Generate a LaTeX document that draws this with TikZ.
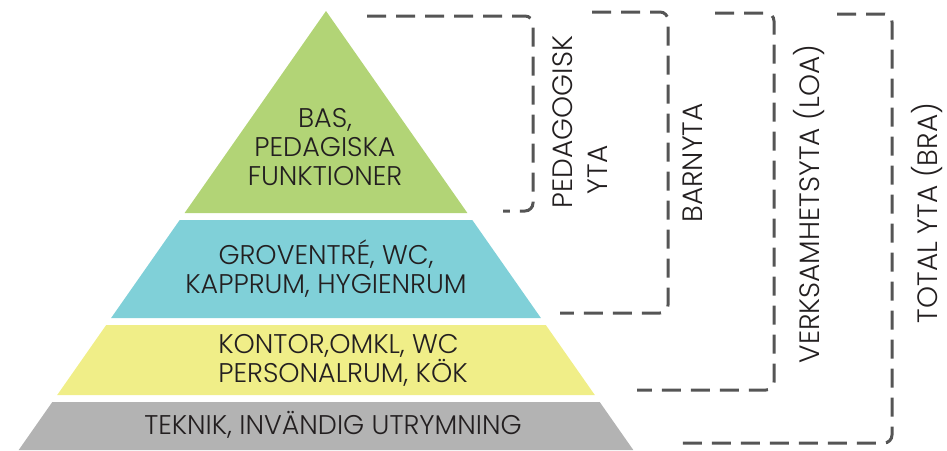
\documentclass[tikz,border=0pt]{standalone}
\usepackage{fontspec}
\setmainfont{Poppins}[UprightFont=* Light]
\usetikzlibrary{positioning}
\definecolor{basgreen}{RGB}{178,212,118}
\definecolor{grovcyan}{RGB}{128,208,216}
\definecolor{kontyellow}{RGB}{240,238,136}
\definecolor{teknikgray}{RGB}{179,179,179}
\definecolor{textdark}{RGB}{35,31,32}
\definecolor{dashgray}{RGB}{85,85,85}
\newcommand{\upc}[1]{\MakeUppercase{#1}}
\tikzstyle{layertext} = [text=textdark, align=center, inner sep=0pt, font=\fontsize{27}{29}\selectfont]
\tikzstyle{sidelabel} = [text=textdark, align=center, inner sep=0pt, rotate=90, font=\fontsize{28}{35}\selectfont]
\tikzstyle{bracket} = [draw=dashgray, line width=3pt, dash pattern=on 19pt off 10pt, rounded corners=8pt]

\begin{document}
\begin{tikzpicture}[x=1pt, y=-1pt]
    \useasboundingbox (0,0) rectangle (947,450);
    % pyramid layers
    \foreach \ya/\yb/\col in {11/213/basgreen, 220/318/grovcyan, 325/395/kontyellow, 402/450/teknikgray}
        \fill[\col] ({326-0.7*(\ya-11)},\ya) -- ({326+0.7*(\ya-11)},\ya) -- ({326+0.7*(\yb-11)},\yb) -- ({326-0.7*(\yb-11)},\yb) -- cycle;
    \node (bas) [layertext] at (325,147) {\upc{Bas,}\\\upc{Pedagiska}\\\upc{Funktioner}};
    \node (grov) [layertext] at (326,269) {\upc{Groventré, wc,}\\\upc{Kapprum, hygienrum}};
    \node (kontor) [layertext, align=left] at (343,360) {\upc{Kontor,omkl, wc}\\\upc{Personalrum, kök}};
    \node (teknik) [layertext] at (333,425) {\upc{Teknik, invändig utrymning}};
    % side labels
    \node (ped) [sidelabel, align=left] at (580,122) {\upc{Pedagogisk}\\\hspace*{14pt}\upc{yta}};
    \node (barn) [sidelabel] at (693,163) {\upc{Barnyta}};
    \node (verk) [sidelabel] at (809,204) {\upc{Verksamhetsyta (loa)}};
    \node (total) [sidelabel] at (927,213) {\upc{Total yta (bra)}};
    % dashed brackets
    \coordinate (pedS) at (367,16);
    \coordinate (pedE) at (503,211);
    \coordinate (barnS) at (592,12);
    \coordinate (barnE) at (560,313);
    \coordinate (verkS) at (715,13);
    \coordinate (verkE) at (637,390);
    \coordinate (totalS) at (837,14);
    \coordinate (totalE) at (673,443);
    \draw [bracket] (pedS) -- ++(166,0) |- (pedE);
    \draw [bracket] (barnS) -- ++(76,0) |- (barnE);
    \draw [bracket] (verkS) -- ++(59,0) |- (verkE);
    \draw [bracket] (totalS) -- ++(55,0) |- (totalE);
\end{tikzpicture}
\end{document}
